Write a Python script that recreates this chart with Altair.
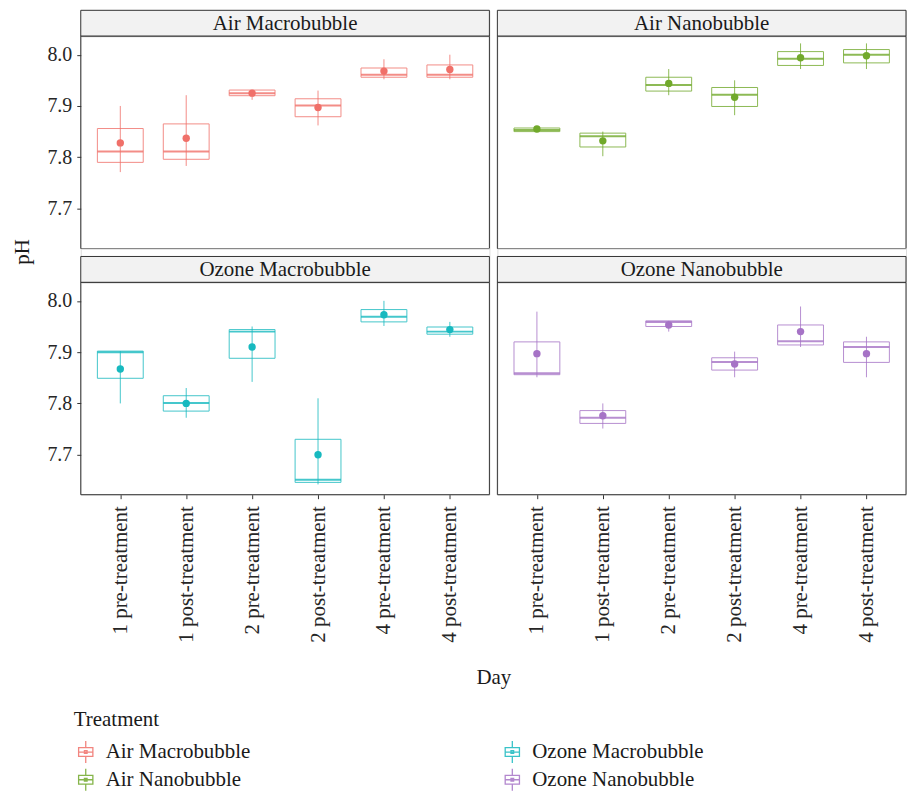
import altair as alt
import pandas as pd

days = ["1 pre-treatment", "1 post-treatment", "2 pre-treatment",
        "2 post-treatment", "4 pre-treatment", "4 post-treatment"]

AM, AN, OM, ON = "Air Macrobubble", "Air Nanobubble", "Ozone Macrobubble", "Ozone Nanobubble"

# Air Macrobubble
am_lo = [7.771, 7.783, 7.912, 7.862, 7.952, 7.952]
am_q1 = [7.790, 7.796, 7.920, 7.879, 7.956, 7.956]
am_med = [7.811, 7.811, 7.925, 7.901, 7.961, 7.961]
am_q3 = [7.856, 7.865, 7.931, 7.914, 7.974, 7.980]
am_hi = [7.900, 7.921, 7.931, 7.930, 7.991, 8.000]
am_mean = [7.828, 7.837, 7.925, 7.897, 7.968, 7.971]

# Air Nanobubble
an_lo = [7.850, 7.802, 7.921, 7.882, 7.972, 7.972]
an_q1 = [7.850, 7.820, 7.929, 7.899, 7.979, 7.984]
an_med = [7.853, 7.841, 7.941, 7.922, 7.992, 8.000]
an_q3 = [7.857, 7.847, 7.956, 7.936, 8.006, 8.010]
an_hi = [7.857, 7.850, 7.972, 7.950, 8.022, 8.022]
an_mean = [7.855, 7.832, 7.944, 7.917, 7.994, 7.998]

# Ozone Macrobubble
om_lo = [7.800, 7.772, 7.842, 7.642, 7.951, 7.930]
om_q1 = [7.849, 7.785, 7.888, 7.646, 7.959, 7.935]
om_med = [7.900, 7.801, 7.940, 7.651, 7.969, 7.940]
om_q3 = [7.902, 7.815, 7.944, 7.730, 7.983, 7.949]
om_hi = [7.902, 7.830, 7.950, 7.810, 8.000, 7.959]
om_mean = [7.867, 7.800, 7.910, 7.700, 7.973, 7.944]

# Ozone Nanobubble
on_lo = [7.851, 7.751, 7.940, 7.851, 7.910, 7.851]
on_q1 = [7.856, 7.761, 7.950, 7.865, 7.914, 7.880]
on_med = [7.859, 7.772, 7.959, 7.881, 7.921, 7.910]
on_q3 = [7.920, 7.786, 7.961, 7.889, 7.953, 7.920]
on_hi = [7.979, 7.800, 7.961, 7.901, 7.989, 7.930]
on_mean = [7.897, 7.776, 7.953, 7.877, 7.940, 7.897]

y_ticks = [7.7, 7.8, 7.9, 8.0]

colors = {AM: "#F07069", AN: "#71A92B", OM: "#17B9BF", ON: "#A673C6"}

series = {
    AM: (am_lo, am_q1, am_med, am_q3, am_hi, am_mean),
    AN: (an_lo, an_q1, an_med, an_q3, an_hi, an_mean),
    OM: (om_lo, om_q1, om_med, om_q3, om_hi, om_mean),
    ON: (on_lo, on_q1, on_med, on_q3, on_hi, on_mean),
}
rows = []
for t, (lo, q1, med, q3, hi, mn) in series.items():
    for i, d in enumerate(days):
        rows.append(dict(Treatment=t, Day=d, lo=lo[i], q1=q1[i], med=med[i],
                         q3=q3[i], hi=hi[i], mean=mn[i]))
df = pd.DataFrame(rows)

FONT = "Liberation Serif"
W, H = 410, 213
BOXW = 46

legend_order = [AM, OM, AN, ON]
color_scale = alt.Scale(domain=legend_order, range=[colors[t] for t in legend_order])
ysc = alt.Scale(domain=[7.622, 8.036], nice=False, zero=False)
xsc = alt.Scale(type="point", domain=days, padding=0.6)

glyph = ("M-0.65,-0.4H0.65V0.4H-0.65Z M-0.65,0H0.65 M0,-1V-0.4 M0,0.4V1 "
         "M-0.12,-0.12H0.12V0.12H-0.12Z")
legend = alt.Legend(
    title="Treatment", orient="none", legendX=-7, legendY=701, direction="horizontal",
    columns=2,
    symbolType=glyph, symbolSize=484, symbolStrokeWidth=1.3, symbolOpacity=0.85,
    symbolFillColor="transparent",
    titleFont=FONT, titleFontSize=21, titleFontWeight="normal", titleColor="#1A1A1A",
    labelFont=FONT, labelFontSize=21, labelColor="#1A1A1A", labelLimit=400,
    titlePadding=10, rowPadding=0, columnPadding=250, labelOffset=8,
)


def panel(t, show_x, show_y, xtitle=None, ytitle=None):
    if show_x:
        xaxis = alt.Axis(title=xtitle, labelAngle=-90, labelFont=FONT, labelFontSize=21,
                         labelColor="#262626", tickSize=4, tickColor="#333333",
                         domain=False, labelPadding=7, titleFont=FONT,
                         titleFontSize=21, titleFontWeight="normal", titleColor="#1A1A1A",
                         titleX=W + 4, titlePadding=24)
    else:
        xaxis = None
    if show_y:
        yaxis = alt.Axis(title=ytitle, values=y_ticks, format=".1f", labelFont=FONT,
                         labelFontSize=20, labelColor="#262626", tickSize=4,
                         tickColor="#333333", domain=False, grid=False, labelPadding=5,
                         titleFont=FONT, titleFontSize=21, titleFontWeight="normal",
                         titleColor="#1A1A1A", titleY=-31, titlePadding=14)
    else:
        yaxis = None
    X = alt.X("Day:N", scale=xsc, sort=days, axis=xaxis)
    C = alt.Color("Treatment:N", scale=color_scale, legend=legend)
    base = alt.Chart(df).transform_filter(alt.datum.Treatment == t)
    whisk = base.mark_rule(strokeWidth=1, opacity=0.8).encode(
        x=X, y=alt.Y("lo:Q", scale=ysc, axis=yaxis), y2="hi:Q", color=C)
    box = base.mark_bar(filled=False, size=BOXW, strokeWidth=1, opacity=0.8).encode(
        x=X, y=alt.Y("q1:Q", scale=ysc, axis=yaxis), y2="q3:Q", color=C)
    med = base.mark_rule(strokeWidth=2, opacity=0.8, xOffset=-BOXW / 2,
                         x2Offset=BOXW / 2).encode(
        x=X, x2="Day:N", y=alt.Y("med:Q", scale=ysc, axis=yaxis), color=C)
    mean = base.mark_circle(size=55, opacity=1, color=colors[t]).encode(
        x=X, y=alt.Y("mean:Q", scale=ysc, axis=yaxis))
    border = alt.Chart(pd.DataFrame({"p": [t]})).mark_rect(
        fill="transparent", stroke="#333333", strokeWidth=1).encode(
        x=alt.value(0), x2=alt.value(W), y=alt.value(0), y2=alt.value(H))
    return alt.layer(whisk, box, med, mean, border).properties(width=W, height=H)


def strip(t, h):
    d = pd.DataFrame({"label": [t]})
    top = h - 26
    rect = alt.Chart(d).mark_rect(fill="#F2F2F2", stroke="#333333", strokeWidth=1).encode(
        x=alt.value(0), x2=alt.value(W), y=alt.value(top), y2=alt.value(h))
    txt = alt.Chart(d).mark_text(font=FONT, fontSize=21, color="#1A1A1A",
                                 baseline="middle", align="center").encode(
        x=alt.value(W / 2), y=alt.value(top + 14), text="label:N")
    return alt.layer(rect, txt).properties(width=W, height=h)


chart = alt.concat(
    strip(AM, 26), strip(AN, 26),
    panel(AM, False, True), panel(AN, False, False),
    strip(OM, 34), strip(ON, 34),
    panel(OM, True, True, xtitle="Day", ytitle="pH"), panel(ON, True, False),
    columns=2, spacing={"row": 0, "column": 8}, bounds="flush", align="each",
).properties(
    padding={"left": 3, "top": 0, "right": 0, "bottom": 0}
).configure_view(stroke=None).configure(font=FONT)

chart.save("out.html", embed_options={"renderer": "svg", "actions": False})
